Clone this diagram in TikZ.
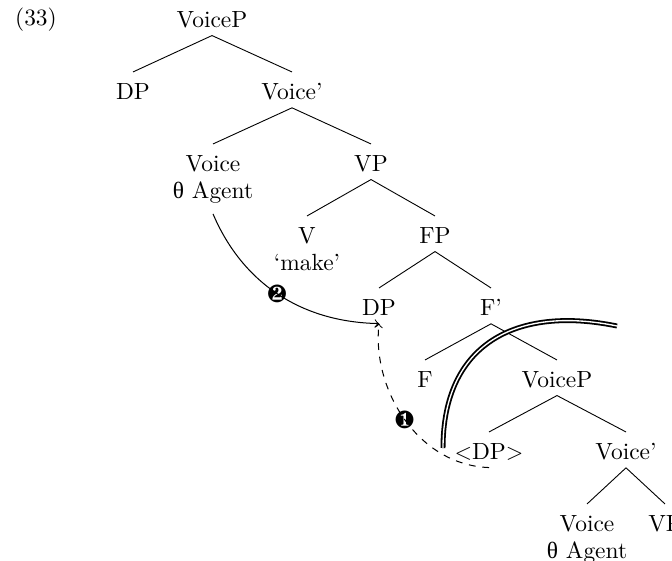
\documentclass[tikz,border=0pt]{standalone}
\usepackage{fontspec}
\usepackage{pifont}
\newfontfamily\thetafont{Liberation Serif}
\newcommand\thAgent{{\thetafont θ} Agent}
\begin{document}
\begin{tikzpicture}[x=0.444pt, y=0.444pt,
  font=\fontsize{10.4pt}{12pt}\selectfont,
  cat/.style={inner sep=0pt, anchor=north, align=center},
  branch/.style={line width=0.4pt},
  move/.style={line width=0.45pt, ->},
  step label/.style={inner sep=0pt, font=\fontsize{11pt}{11pt}\selectfont},
  island/.style={double, line width=0.8pt, double distance=0.6pt}]
\useasboundingbox (0,0) rectangle (672,-560);
\clip (0,0) rectangle (672,-560);

% example number
\node[inner sep=0pt, anchor=base] (exnum) at (36,-26) {(33)};

% upper VoiceP layer
\node[cat] (vpA)    at (212,-11)  {VoiceP};
\node[cat] (dpA)    at (133,-83)  {DP};
\node[cat] (vbarA)  at (292,-83)  {Voice'};
\node[cat] (voiceA) at (213,-155) {Voice\\\thAgent};
\node[cat] (vP)     at (371,-155) {VP};
\node[cat] (verb)   at (307,-227) {V\\`make'};
\node[cat] (fP)     at (435,-227) {FP};
\node[cat] (dpB)    at (379,-299) {DP};
\node[cat] (fbar)   at (491,-299) {F'};
\node[cat] (fhead)  at (425,-371) {F};

% embedded VoiceP layer
\node[cat] (vpB)    at (557,-371) {VoiceP};
\node[cat] (trace)  at (489,-443) {$<$DP$>$};
\node[cat] (vbarB)  at (626,-443) {Voice'};
\node[cat] (voiceB) at (587,-515) {Voice\\\thAgent};
\node[cat] (vPB)    at (665,-515) {VP};

% tree branches
\foreach \p/\c in {vpA/dpA, vpA/vbarA, vbarA/voiceA, vbarA/vP,
                   vP/verb, vP/fP, fP/dpB, fP/fbar, fbar/fhead, fbar/vpB,
                   vpB/trace, vpB/vbarB, vbarB/voiceB, vbarB/vPB}
  \draw[branch] ([yshift=-3.6pt]\p.base) -- ([yshift=4.9pt]\c.north);

% landing site of both movements
\coordinate (land) at ([yshift=-3.6pt]dpB.base);

% step 1: raising of the embedded subject
\draw[move, dashed] ([yshift=-3.6pt]trace.base)
  .. controls (418,-465) and (372,-390) .. (land)
  node[step label, pos=0.5] (one) {\ding{182}};

% step 2: theta role from the matrix Voice
\draw[move] ([yshift=-4.5pt]voiceA.south)
  .. controls (242,-282) and (300,-322) .. (land)
  node[step label, pos=0.5] (two) {\ding{183}};

% boundary of the embedded domain
\draw[island] (443,-448) .. controls (443,-345) and (515,-305) .. (617,-326);
\end{tikzpicture}
\end{document}
